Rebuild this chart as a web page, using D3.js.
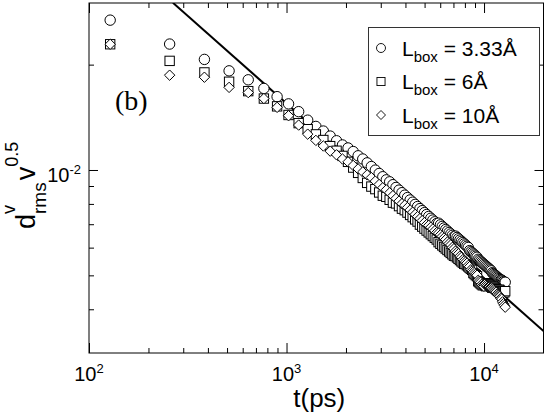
<!DOCTYPE html>
<html>
<head>
<meta charset="utf-8">
<script src="https://cdn.jsdelivr.net/npm/d3@7"></script>
<style>
body { margin: 0; background: #fff; }
text { fill: #000; }
</style>
</head>
<body>
<svg id="chart" width="545" height="414"></svg>
<script>
// time points (ps)
const tValues = [128, 256, 384, 512, 640, 768, 896, 1024, 1152, 1280, 1408, 1536, 1664, 1792, 1920, 2048, 2176, 2304, 2432, 2560,
  2688, 2816, 2944, 3072, 3200, 3328, 3456, 3584, 3712, 3840, 3968, 4096, 4224, 4352, 4480, 4608, 4736, 4864, 4992, 5120,
  5248, 5376, 5504, 5632, 5760, 5888, 6016, 6144, 6272, 6400, 6528, 6656, 6784, 6912, 7040, 7168, 7296, 7424, 7552, 7680,
  7808, 7936, 8064, 8192, 8320, 8448, 8576, 8704, 8832, 8960, 9088, 9216, 9344, 9472, 9600, 9728, 9856, 9984, 10112, 10240,
  10368, 10496, 10624, 10752, 10880, 11008, 11136, 11264, 11392, 11520, 11648, 11776, 11904, 12032, 12160, 12288, 12416, 12544, 12672, 12800];

// L_box = 3.33 A  (circles)
const circleVals = [0.0268, 0.0229, 0.0207, 0.0192, 0.0181, 0.0171, 0.0162, 0.01545, 0.01468,
  0.01388, 0.01332, 0.01292, 0.01250, 0.01212, 0.01179, 0.01156, 0.01129, 0.01098, 0.01075, 0.01048,
  0.01023, 0.009992, 0.009773, 0.009567, 0.009373, 0.009252, 0.009079, 0.008916, 0.008760, 0.008613,
  0.008474, 0.008340, 0.008212, 0.008091, 0.007975, 0.007863, 0.007756, 0.007653, 0.007554, 0.007460,
  0.007368, 0.007280, 0.007195, 0.007112, 0.007033, 0.007048, 0.006972, 0.006899, 0.006829, 0.006760,
  0.006694, 0.006629, 0.006566, 0.006505, 0.006446, 0.006473, 0.006416, 0.006360, 0.006307, 0.006253,
  0.006202, 0.006151, 0.006103, 0.006055, 0.006008, 0.005884, 0.005840, 0.005797, 0.005755, 0.005714,
  0.005673, 0.005633, 0.005558, 0.005521, 0.005484, 0.005447, 0.005412, 0.005377, 0.005343, 0.005309,
  0.005276, 0.005245, 0.005213, 0.005182, 0.005151, 0.005087, 0.005058, 0.005029, 0.005001, 0.004973,
  0.004945, 0.004918, 0.004892, 0.004866, 0.004841, 0.004847, 0.004822, 0.004797, 0.004773, 0.004780];

// L_box = 6 A  (squares)
const squareVals = [0.02287, 0.0205, 0.0190, 0.01787, 0.0168, 0.0160, 0.0152, 0.01436, 0.01361,
  0.01308, 0.01264, 0.01218, 0.01170, 0.01135, 0.01097, 0.01055, 0.01016, 0.009813, 0.009489, 0.009188,
  0.008966, 0.008818, 0.008625, 0.008443, 0.008381, 0.008219, 0.008065, 0.008025, 0.007885, 0.007753,
  0.007677, 0.007556, 0.007440, 0.007331, 0.007225, 0.007123, 0.006981, 0.006889, 0.006800, 0.006714,
  0.006632, 0.006553, 0.006476, 0.006402, 0.006330, 0.006220, 0.006153, 0.006088, 0.006026, 0.005966,
  0.005907, 0.005850, 0.005794, 0.005741, 0.005688, 0.005675, 0.005625, 0.005576, 0.005529, 0.005482,
  0.005437, 0.005393, 0.005386, 0.005343, 0.005302, 0.005261, 0.005222, 0.005183, 0.005078, 0.005042,
  0.005006, 0.004971, 0.004809, 0.004777, 0.004744, 0.004713, 0.004683, 0.004714, 0.004684, 0.004655,
  0.004749, 0.004720, 0.004692, 0.004664, 0.004636, 0.004609, 0.004643, 0.004617, 0.004591, 0.004565,
  0.004540, 0.004515, 0.004551, 0.004526, 0.004503, 0.004479, 0.004457, 0.004492, 0.004469, 0.004506];

// L_box = 10 A  (diamonds)
const diamondVals = [0.02287, 0.01866, 0.01841, 0.01722, 0.01664, 0.0160, 0.0151, 0.01429, 0.01344,
  0.01266, 0.01215, 0.01171, 0.01132, 0.01105, 0.01075, 0.01055, 0.01030, 0.01007, 0.009870, 0.009685,
  0.009513, 0.009295, 0.009091, 0.008899, 0.008777, 0.008607, 0.008446, 0.008294, 0.008149, 0.008012,
  0.007934, 0.007808, 0.007689, 0.007576, 0.007467, 0.007362, 0.007262, 0.007166, 0.007073, 0.006984,
  0.006945, 0.006861, 0.006781, 0.006703, 0.006628, 0.006599, 0.006528, 0.006460, 0.006394, 0.006330,
  0.006227, 0.006166, 0.006108, 0.006011, 0.005956, 0.005865, 0.005813, 0.005763, 0.005676, 0.005628,
  0.005545, 0.005500, 0.005457, 0.005414, 0.005337, 0.005296, 0.005188, 0.005150, 0.005112, 0.005076,
  0.005040, 0.005004, 0.004841, 0.004808, 0.004776, 0.004713, 0.004683, 0.004652, 0.004715, 0.004685,
  0.004656, 0.004628, 0.004630, 0.004603, 0.004606, 0.004579, 0.004552, 0.004527, 0.004501, 0.004476,
  0.004422, 0.004398, 0.004374, 0.004351, 0.004300, 0.004277, 0.004200, 0.004151, 0.004103, 0.004055];

// power law guide line (end points)
const fitT = [266, 20000];
const fitY = [0.03004, 0.003465];

const xMajor = [100, 1000, 10000];
const xMinor = [200, 300, 400, 500, 600, 700, 800, 900, 2000, 3000, 4000, 5000, 6000, 7000, 8000, 9000];
const xExp = ["2", "3", "4"];
const yMajor = [0.01];
const yMinor = [0.004, 0.005, 0.006, 0.007, 0.008, 0.009, 0.02];
const yExp = ["-2"];
const legendText = ["3.33Å", "6Å", "10Å"];
const legendShapes = ["circle", "square", "diamond"];

const sans = "'Liberation Sans', Arial, sans-serif";
const serif = "'Liberation Serif', 'Times New Roman', serif";
const plot = {left: 89, right: 543.5, top: 3, bottom: 353};

const svg = d3.select("#chart");
svg.append("rect").attr("width", 545).attr("height", 414).attr("fill", "#fff");

const x = d3.scaleLog().domain([100, 20000]).range([plot.left, plot.right]);
const y = d3.scaleLog().domain([0.003, 0.03]).range([plot.bottom, plot.top]);

svg.append("clipPath").attr("id", "clip")
  .append("rect")
    .attr("x", plot.left).attr("y", plot.top)
    .attr("width", plot.right - plot.left).attr("height", plot.bottom - plot.top);

// ticks, pointing inward on all four sides
function ticks(axis, vals, size, tr) {
  const g = svg.append("g")
    .attr("transform", tr)
    .call(axis.tickValues(vals).tickSize(-size).tickFormat(""));
  g.select(".domain").remove();
  g.selectAll("line").attr("stroke", "#000").attr("stroke-width", 1);
}
ticks(d3.axisBottom(x), xMajor, 10, `translate(0,${plot.bottom})`);
ticks(d3.axisBottom(x), xMinor, 5, `translate(0,${plot.bottom})`);
ticks(d3.axisTop(x), xMajor, 10, `translate(0,${plot.top})`);
ticks(d3.axisTop(x), xMinor, 5, `translate(0,${plot.top})`);
ticks(d3.axisLeft(y), yMajor, 9, `translate(${plot.left},0)`);
ticks(d3.axisLeft(y), yMinor, 5, `translate(${plot.left},0)`);
ticks(d3.axisRight(y), yMajor, 9, `translate(${plot.right},0)`);
ticks(d3.axisRight(y), yMinor, 5, `translate(${plot.right},0)`);

// guide line under the markers
const line = d3.line().x(d => x(d[0])).y(d => y(d[1]));
svg.append("path")
  .datum(d3.zip(fitT, fitY))
  .attr("clip-path", "url(#clip)")
  .attr("d", line)
  .attr("fill", "none")
  .attr("stroke", "#000")
  .attr("stroke-width", 2);

function marker(sel, shape, s) {
  if (shape === "circle") return sel.append("circle").attr("r", s);
  if (shape === "square") return sel.append("rect").attr("x", -s * 0.9).attr("y", -s * 0.9).attr("width", s * 1.8).attr("height", s * 1.8);
  return sel.append("path").attr("d", `M0,${-s}L${s},0L0,${s}L${-s},0Z`);
}

const series = [
  {vals: circleVals, shape: "circle"},
  {vals: squareVals, shape: "square"},
  {vals: diamondVals, shape: "diamond"}
];

series.forEach(s => {
  const pts = svg.append("g")
    .selectAll("g")
    .data(d3.zip(tValues, s.vals))
    .enter().append("g")
      .attr("transform", d => `translate(${x(d[0])},${y(d[1])})`);
  marker(pts, s.shape, 5.2)
    .attr("fill", "#fff")
    .attr("stroke", "#000")
    .attr("stroke-width", 1);
});

// frame
svg.append("rect")
  .attr("x", plot.left).attr("y", plot.top)
  .attr("width", plot.right - plot.left).attr("height", plot.bottom - plot.top)
  .attr("fill", "none").attr("stroke", "#000").attr("stroke-width", 1);

// tick labels
xMajor.forEach((v, i) => {
  const t = svg.append("text")
    .attr("x", x(v)).attr("y", 381)
    .attr("text-anchor", "middle")
    .style("font-family", sans)
    .style("font-size", "20px");
  t.append("tspan").text("10");
  t.append("tspan").style("font-size", "13px").attr("dy", -8).text(xExp[i]);
});
yMajor.forEach((v, i) => {
  const t = svg.append("text")
    .attr("x", plot.left - 8).attr("y", y(v) + 12)
    .attr("text-anchor", "end")
    .style("font-family", sans)
    .style("font-size", "20px");
  t.append("tspan").text("10");
  t.append("tspan").style("font-size", "13px").attr("dy", -8).text(yExp[i]);
});

// axis titles
svg.append("text")
  .attr("x", (plot.left + plot.right) / 2 + 3).attr("y", 407)
  .attr("text-anchor", "middle")
  .style("font-family", sans)
  .style("font-size", "26px")
  .text("t(ps)");

const yl = svg.append("text")
  .attr("transform", "translate(35,229) rotate(-90)")
  .style("font-family", sans)
  .style("font-size", "27px");
yl.append("tspan").text("d");
yl.append("tspan").style("font-size", "18px").attr("dy", -20).text("v");
yl.append("tspan").style("font-size", "19px").attr("dx", -9).attr("dy", 31).text("rms");
yl.append("tspan").attr("dx", 2).attr("dy", -11).text("v");
yl.append("tspan").style("font-size", "18px").attr("dy", -17).text("0.5");

// panel label
svg.append("text")
  .attr("x", 115).attr("y", 110)
  .style("font-family", serif)
  .style("font-size", "28px")
  .text("(b)");

// legend
const lg = svg.append("g");
lg.append("rect")
  .attr("x", 368.5).attr("y", 27.5).attr("width", 171).attr("height", 108)
  .attr("fill", "#fff").attr("stroke", "#333").attr("stroke-width", 1);
legendText.forEach((txt, i) => {
  const cy = 48 + i * 33.5;
  const m = lg.append("g").attr("transform", `translate(381,${cy})`);
  marker(m, legendShapes[i], 4.5).attr("fill", "#fff").attr("stroke", "#000").attr("stroke-width", 0.9);
  const t = lg.append("text").attr("x", 402).attr("y", cy + 7.5)
    .style("font-family", sans).style("font-size", "21px");
  t.append("tspan").text("L");
  t.append("tspan").style("font-size", "15px").attr("dy", 6).text("box");
  t.append("tspan").attr("dy", -6).text(" = " + txt);
});
</script>
</body>
</html>
